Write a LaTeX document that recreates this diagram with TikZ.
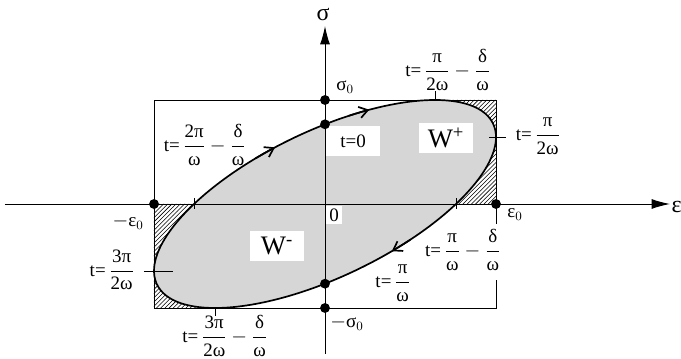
\documentclass[tikz,border=0pt]{standalone}
\usepackage{amsmath}
\usepackage{fontspec}
\setmainfont{Liberation Serif}
\usetikzlibrary{arrows.meta,patterns}
\newcommand{\fr}[2]{\dfrac{\mbox{#1}}{\mbox{#2}}}

\begin{document}
\begin{tikzpicture}[x=0.025cm,y=0.025cm,every node/.style={font=\fontsize{13.5}{15}\selectfont,inner sep=1pt},
  dot/.style={circle,fill,inner sep=0pt,minimum size=7pt},
  axis/.style={line width=0.7pt,-{Latex[length=13pt,width=7pt]}},
  loop/.style={line width=1.2pt},
  whitebox/.style={fill=white,inner sep=0pt,minimum width=38pt,minimum height=21pt}]
  \useasboundingbox (-325,-155) rectangle (356,204);
  \fill[gray!32] plot[domain=0:360,samples=120,smooth] ({171*sin(\x)},{104*sin(\x+50)}) -- cycle;
  \fill[pattern=north east lines] plot[domain=40:130,samples=40] ({171*sin(\x)},{104*sin(\x+50)}) -- (171,0) -- (171,104) -- cycle;
  \fill[pattern=north east lines] plot[domain=220:310,samples=40] ({171*sin(\x)},{104*sin(\x+50)}) -- (-171,0) -- (-171,-104) -- cycle;
  \node[whitebox] (t0) at (28,63) {t=0};
  \node[whitebox,font=\fontsize{19}{21}\selectfont] (wp) at (121,66) {W\textsuperscript{+}};
  \node[whitebox,font=\fontsize{19}{21}\selectfont] (wm) at (-48,-42) {W\textsuperscript{-}};
  \node[fill=white,inner sep=2pt] (o) at (9,-11) {0};
  \draw[line width=0.6pt] (171,-20) -- (171,104) -- (-171,104) -- (-171,-104) -- (171,-104) -- (171,-76);
  \coordinate (eL) at (-320,0);
  \coordinate (sB) at (0,-150);
  \node[anchor=west,font=\fontsize{17}{19}\selectfont] (eps) at (345,-3) {ε};
  \node[font=\fontsize{17}{19}\selectfont] (sig) at (-2,189) {σ};
  \draw[axis] (eL) -- (345,0);
  \draw[axis] (sB) -- (0,178);
  \draw[loop] plot[domain=0:360,samples=120,smooth] ({171*sin(\x)},{104*sin(\x+50)}) -- cycle;
  \foreach \a in {-24,8,150} {
    \draw[loop,-{Straight Barb[length=6pt,width=8pt]}] plot[domain=\a:\a+7,samples=4,smooth] ({171*sin(\x)},{104*sin(\x+50)});
  }
  \node[dot] (s0) at (0,104) {};
  \node[dot] (s1) at (0,79.7) {};
  \node[dot] (s2) at (0,-79.7) {};
  \node[dot] (s3) at (0,-104) {};
  \node[dot] (e0) at (171,0) {};
  \node[dot] (e1) at (-171,0) {};
  \draw (110,104) -- (110,113);
  \draw (164,67) -- (181,67);
  \draw (-181,-67) -- (-152,-67);
  \draw (-110,-104) -- (-110,-112);
  \draw (131,-5) -- (131,6);
  \draw (-131,-5) -- (-131,6);
  \node (ls0) at (20,117) {σ$_0$};
  \node (ls3) at (22,-119) {$-$σ$_0$};
  \node (le0) at (190,-11) {ε$_0$};
  \node (le1) at (-197,-18) {$-$ε$_0$};
  \node (ttop) at (123,134) {t=\,$\fr{π}{2ω}-\fr{δ}{ω}$};
  \node (tright) at (213,68) {t=\,$\fr{π}{2ω}$};
  \node (tul) at (-120,59) {t=\,$\fr{2π}{ω}-\fr{δ}{ω}$};
  \node (tleft) at (-213,-66) {t=\,$\fr{3π}{2ω}$};
  \node (tbot) at (-100,-132) {t=\,$\fr{3π}{2ω}-\fr{δ}{ω}$};
  \node (tlr) at (138,-46) {t=\,$\fr{π}{ω}-\fr{δ}{ω}$};
  \node (tpi) at (68,-79) {t=\,$\fr{π}{ω}$};
\end{tikzpicture}
\end{document}
